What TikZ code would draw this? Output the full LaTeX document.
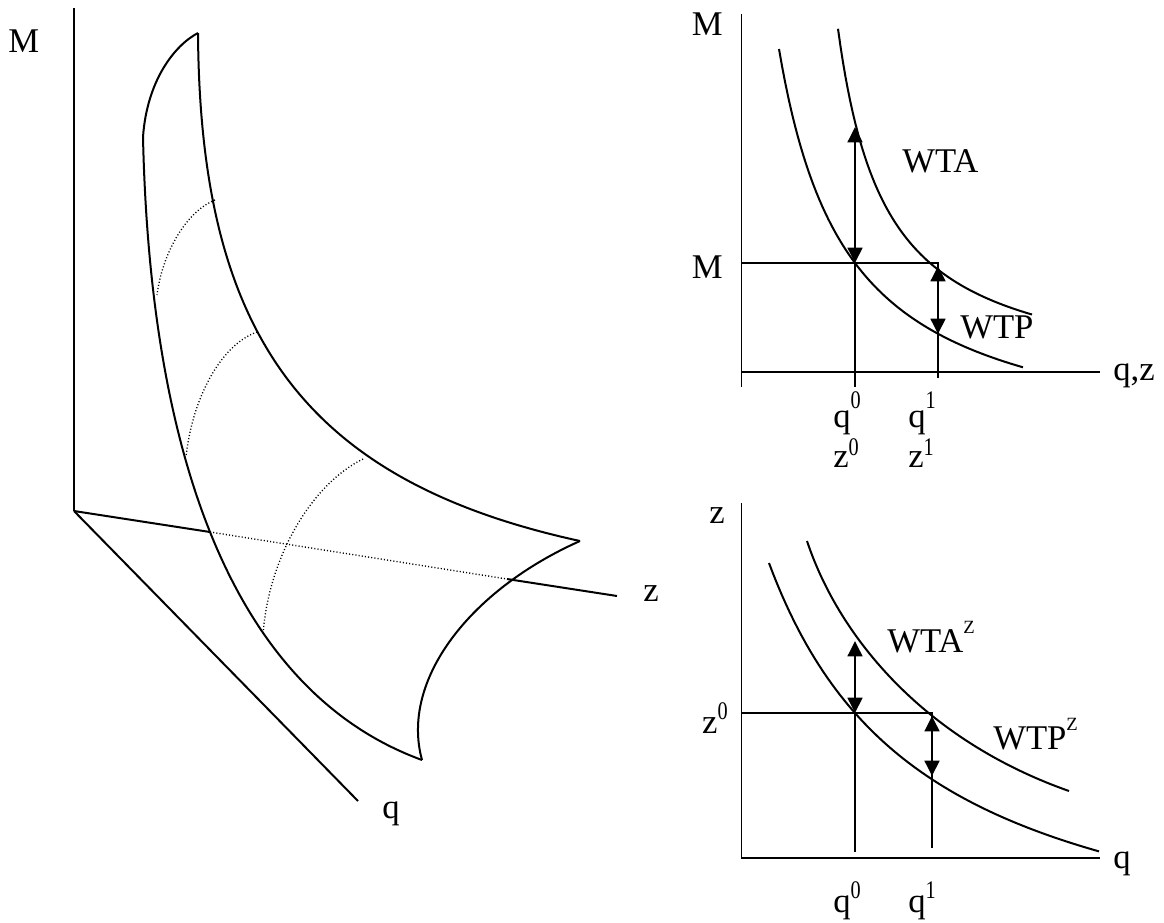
\documentclass[tikz,border=0pt]{standalone}
\usepackage{fontspec}
\setmainfont{Liberation Serif}
\usetikzlibrary{arrows.meta}
% superscript: raise amount, content
\newcommand\upx[2]{\raisebox{#1}{\scalebox{0.8}[1]{\fontsize{19}{19}\selectfont #2}}}
\newcommand\upz[1]{\raisebox{14pt}{\fontsize{14}{14}\selectfont #1}}
\begin{document}
\begin{tikzpicture}[x=0.75pt,y=-0.75pt,
  every node/.style={inner sep=0pt,font=\fontsize{26}{30}\selectfont},
  lbl/.style={anchor=base west},
  lble/.style={anchor=base east},
  axis/.style={line width=1.2pt},
  curve/.style={line width=1.5pt},
  dots/.style={line width=1pt,dash pattern=on 0.8pt off 1.6pt},
  dbl/.style={line width=1.9pt,{Triangle[length=11.5pt,width=11pt]}-{Triangle[length=11.5pt,width=11pt]}}]
\useasboundingbox (0,0) rectangle (1164,922);

% ---------- left 3D diagram ----------
\coordinate (O) at (74,511);
\coordinate (Mtop) at (74,8);
\coordinate (zA) at (210,532);
\coordinate (zB) at (507,579);
\coordinate (zE) at (617,596);
\coordinate (qE) at (358,801);
\draw[curve] (O) -- (Mtop);
\draw[curve] (O) -- (zA);
\draw[dots] (zA) -- (zB);
\draw[curve] (zB) -- (zE);
\draw[curve] (O) -- (qE);
\node[lbl] (lM) at (8,52) {M};
\node[lbl] (lz) at (643,601) {z};
\node[lbl] (lq) at (382,818) {q};

% surface edges
\coordinate (S1) at (143,137);
\coordinate (S2) at (198,33);
\coordinate (S3) at (580,541);
\coordinate (S4) at (422,760);
\draw[curve] (S1) .. controls (147,80) and (175,45) .. (S2);
\draw[curve] (S1) .. controls (150,450) and (230,690) .. (S4);
\draw[curve] (S2) .. controls (200,330) and (300,480) .. (S3);
\draw[curve] (S3) .. controls (470,590) and (400,680) .. (S4);
% dotted cross-sections
\draw[dots] (215,200) .. controls (185,212) and (162,255) .. (157,295);
\draw[dots] (257,332) .. controls (220,345) and (192,400) .. (186,457);
\draw[dots] (363,459) .. controls (310,485) and (268,560) .. (263,635);

% ---------- top right graph ----------
\coordinate (A0) at (741.5,14);
\coordinate (A1) at (741.5,387);
\coordinate (X0) at (741.5,372);
\coordinate (X1) at (1100,372);
\draw[axis] (A0) -- (A1);
\draw[axis] (X0) -- (X1);
\draw[axis] (741.5,263) coordinate (h0) -- (939,263) coordinate (h1);
\draw[axis] (855,263) coordinate (v0) -- (855,387) coordinate (v0b);
\draw[axis] (938,263) coordinate (v1) -- (938,378) coordinate (v1b);
\draw[curve] plot[domain=779:1023,samples=80] (\x,{457.3-281.73/((\x-710)/100)});
\draw[curve] plot[domain=838:1032,samples=80] (\x,{385.2-171.08/((\x-790)/100)});
\coordinate (wtaT) at (855,127);
\coordinate (wtaB) at (855,263);
\coordinate (wtpT) at (938,266);
\coordinate (wtpB) at (938,334);
\draw[dbl] (wtaT) -- (wtaB);
\draw[dbl] (wtpT) -- (wtpB);
\node[lble] (tM) at (723,35) {M};
\node[lble] (mM) at (723,278) {M};
\node[lbl] (wta) at (902,172) {WTA};
\node[lbl] (wtp) at (960,338) {WTP};
\node[lbl] (qz) at (1113,380) {q,z};
\node[lbl] (q0) at (833,427) {q\upx{14pt}{0}};
\node[lbl] (z0) at (833,467) {z\upx{9pt}{0}};
\node[lbl] (q1) at (908,427) {q\upx{14pt}{1}};
\node[lbl] (z1) at (908,467) {z\upx{9pt}{1}};

% ---------- bottom right graph ----------
\coordinate (B0) at (741.5,503);
\coordinate (B1) at (741.5,858);
\coordinate (Y1) at (1100,858);
\draw[axis] (B0) -- (B1) -- (Y1);
\draw[axis] (741.5,713) coordinate (g0) -- (933,713) coordinate (g1);
\draw[axis] (855,713) coordinate (u0) -- (855,852) coordinate (u0b);
\draw[axis] (932,713) coordinate (u1) -- (932,848) coordinate (u1b);
\draw[curve] plot[domain=769:1099,samples=80] (\x,{990.3-679.35/((\x-610)/100)});
\draw[curve] (807,541) .. controls (840,640) and (927,741) .. (1069,791);
\coordinate (zaT) at (855,641);
\coordinate (zaB) at (855,713);
\coordinate (zpT) at (932,716);
\coordinate (zpB) at (932,776);
\draw[dbl] (zaT) -- (zaB);
\draw[dbl] (zpT) -- (zpB);
\node[lbl] (bz) at (709,523) {z};
\node[lble] (bz0) at (728,733) {z\upx{10pt}{0}};
\node[lbl] (wtaz) at (887,652) {WTA\upz{Z}};
\node[lbl] (wtpz) at (993,749) {WTP\upz{Z}};
\node[lbl] (bq) at (1113,868) {q};
\node[lbl] (bq0) at (833,912) {q\upx{10pt}{0}};
\node[lbl] (bq1) at (908,912) {q\upx{10pt}{1}};
\end{tikzpicture}
\end{document}
